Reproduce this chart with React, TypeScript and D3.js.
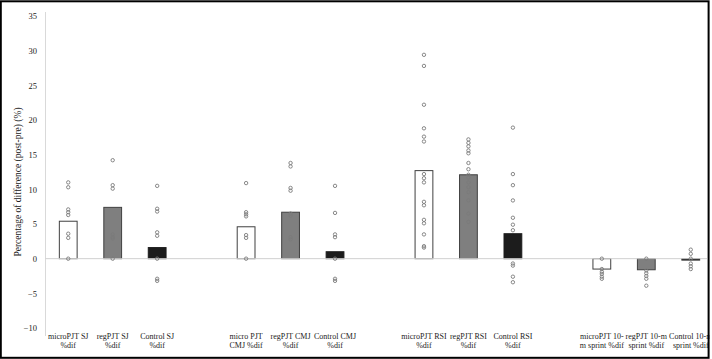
import React, {useRef, useEffect} from 'react';
import * as d3 from 'd3';

// 15 slots on the x axis, empty strings are the gaps between test groups
const slots = [
  'microPJT SJ', 'regPJT SJ', 'Control SJ', '',
  'micro PJT CMJ', 'regPJT CMJ', 'Control CMJ', ' ',
  'microPJT RSI', 'regPJT RSI', 'Control RSI', '  ',
  'microPJT sprint', 'regPJT sprint', 'Control sprint'
]
const categories = [
  'microPJT SJ', 'regPJT SJ', 'Control SJ',
  'micro PJT CMJ', 'regPJT CMJ', 'Control CMJ',
  'microPJT RSI', 'regPJT RSI', 'Control RSI',
  'microPJT sprint', 'regPJT sprint', 'Control sprint'
]
const labelLines = [
  ['microPJT SJ', '%dif'], ['regPJT SJ', '%dif'], ['Control SJ', '%dif'],
  ['micro PJT', 'CMJ %dif'], ['regPJT CMJ', '%dif'], ['Control CMJ', '%dif'],
  ['microPJT RSI', '%dif'], ['regPJT RSI', '%dif'], ['Control RSI', '%dif'],
  ['microPJT 10-', 'm sprint %dif'], ['regPJT 10-m', 'sprint %dif'], ['Control 10-m', 'sprint %dif']
]
const groupType = ['micro', 'reg', 'control', 'micro', 'reg', 'control', 'micro', 'reg', 'control', 'micro', 'reg', 'control']
const means = [5.4, 7.4, 1.6, 4.6, 6.7, 1.0, 12.7, 12.1, 3.6, -1.5, -1.6, -0.2]
const individuals = [
  [11.0, 10.3, 7.1, 6.7, 6.3, 3.6, 3.0, 0.0],
  [14.2, 10.6, 10.1, 3.5, 3.1, 2.9, 0.0],
  [10.5, 7.2, 6.8, 3.8, 3.3, 0.0, -2.9, -3.2],
  [10.9, 6.7, 6.4, 6.1, 3.4, 3.0, 0.0],
  [13.8, 13.3, 10.2, 9.8, 6.5, 6.2, 3.1, 2.8],
  [10.5, 6.6, 3.5, 3.1, 0.0, -2.9, -3.2],
  [29.4, 27.8, 22.2, 18.8, 17.6, 16.9, 12.2, 11.6, 11.0, 8.2, 7.7, 5.6, 5.1, 3.5, 1.8, 1.6],
  [17.2, 16.7, 16.2, 15.6, 15.2, 13.8, 12.9, 12.1, 11.7, 11.0, 10.3, 9.6, 8.4, 6.5, 5.3],
  [18.9, 12.2, 10.6, 8.4, 5.9, 4.9, 4.1, -0.7, -1.0, -2.6, -3.4],
  [0.0, -1.5, -1.9, -2.2, -2.6, -2.9],
  [0.0, -1.7, -2.1, -2.5, -2.9, -3.9],
  [1.3, 0.7, 0.0, -0.7, -1.1, -1.5]
]
const yTicks = [-10, -5, 0, 5, 10, 15, 20, 25, 30, 35]

const fills = {micro: '#ffffff', reg: '#7f7f7f', control: '#1c1c1c'}
const font = '"Liberation Serif", "Times New Roman", serif'

const App = () => {
  const svgRef = useRef(null)

  useEffect(() => {
    const svg = d3.select(svgRef.current)
    svg.selectAll('*').remove()

    const width = 712, height = 359

    var x = d3.scaleBand().domain(slots).range([46, 713]).padding(0)
    var y = d3.scaleLinear().domain([-10, 35]).range([328, 16])
    const barW = x.bandwidth() * 0.4

    svg.append('rect')
      .attr('width', width).attr('height', height).attr('fill', '#fff')

    // y axis line
    svg.append('line')
      .attr('x1', 45.5).attr('x2', 45.5).attr('y1', 12).attr('y2', 336)
      .attr('stroke', '#d9d9d9').attr('stroke-width', 1)

    // y tick labels
    const yAxis = svg.append('g')
      .attr('transform', 'translate(45,0)')
      .call(d3.axisLeft(y).tickValues(yTicks).tickSize(0).tickPadding(8))
    yAxis.select('.domain').remove()
    yAxis.selectAll('text')
      .attr('font-family', font).attr('font-size', 8.5).attr('fill', '#222')

    // y title
    svg.append('text')
      .attr('transform', 'translate(21, 182) rotate(-90)')
      .attr('text-anchor', 'middle')
      .attr('font-family', font).attr('font-size', 9.5)
      .attr('fill', '#222')
      .text('Percentage of difference (post-pre) (%)')

    // bars
    svg.append('g').selectAll('rect')
      .data(means)
      .join('rect')
      .attr('x', (d, i) => x(categories[i]) + x.bandwidth() / 2 - barW / 2)
      .attr('y', d => Math.min(y(d), y(0)))
      .attr('width', barW)
      .attr('height', d => Math.max(1, Math.abs(y(d) - y(0))))
      .attr('fill', (d, i) => fills[groupType[i]])
      .attr('stroke', (d, i) => groupType[i] === 'control' ? '#1c1c1c' : '#404040')
      .attr('stroke-width', 1)

    // zero line
    svg.append('line')
      .attr('x1', 45.5).attr('x2', 707).attr('y1', y(0)).attr('y2', y(0))
      .attr('stroke', '#d0d0d0').attr('stroke-width', 1)

    // individual points
    const pts = individuals.flatMap((vals, i) => vals.map(v => ({cat: categories[i], v})))
    svg.append('g').selectAll('circle')
      .data(pts)
      .join('circle')
      .attr('cx', d => x(d.cat) + x.bandwidth() / 2)
      .attr('cy', d => y(d.v))
      .attr('r', 1.7)
      .attr('fill', 'none')
      .attr('stroke', '#7a7a7a')
      .attr('stroke-width', 0.9)

    // x labels
    const lbl = svg.append('g').selectAll('text')
      .data(labelLines)
      .join('text')
      .attr('x', (d, i) => x(categories[i]) + x.bandwidth() / 2)
      .attr('y', 339)
      .attr('text-anchor', 'middle')
      .attr('font-family', font).attr('font-size', 8)
      .attr('fill', '#222')
    lbl.append('tspan').text(d => d[0])
    lbl.append('tspan')
      .attr('x', (d, i) => x(categories[i]) + x.bandwidth() / 2)
      .attr('dy', 8.5)
      .text(d => d[1])

    // white strip right of the frame, then the black border
    svg.append('rect')
      .attr('x', 709.5).attr('y', 0).attr('width', 3).attr('height', height).attr('fill', '#fff')
    svg.append('rect')
      .attr('x', 0.8).attr('y', 1.3).attr('width', 707.8).attr('height', 356.5)
      .attr('fill', 'none').attr('stroke', '#000').attr('stroke-width', 2)
  }, [])

  return (
    <div style={{position: 'absolute', left: 0, top: 0}}>
      <svg ref={svgRef} width={712} height={359} style={{display: 'block'}}></svg>
    </div>
  )
}

export default App
